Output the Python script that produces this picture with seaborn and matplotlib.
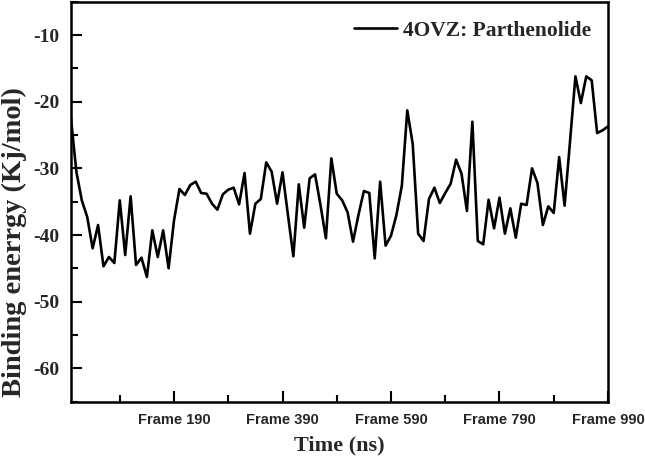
import numpy as np
import matplotlib.pyplot as plt
from matplotlib.ticker import MultipleLocator
import seaborn as sns

# frame index (every 10 frames) and binding energy
frames = np.arange(0, 1000, 10)
energy = [
    -22.5, -30.5, -34.8, -37.3, -42.0, -38.5, -44.7, -43.3, -44.2, -34.8,
    -43.0, -34.2, -44.5, -43.4, -46.3, -39.3, -43.3, -39.3, -45.0, -37.8,
    -33.1, -34.0, -32.5, -32.0, -33.7, -33.8, -35.3, -36.2, -33.9, -33.2,
    -32.9, -35.4, -30.7, -39.8, -35.3, -34.6, -29.1, -30.5, -35.3, -30.6,
    -37.0, -43.2, -32.4, -38.9, -31.5, -30.9, -35.5, -40.5, -28.5, -33.8,
    -34.8, -36.6, -41.0, -37.0, -33.4, -33.7, -43.5, -32.0, -41.6, -40.1,
    -37.0, -32.6, -21.3, -26.3, -39.8, -40.9, -34.6, -32.9, -35.2, -33.7,
    -32.3, -28.7, -30.8, -36.4, -23.0, -40.9, -41.4, -34.7, -39.0, -34.4,
    -39.8, -36.0, -40.4, -35.3, -35.5, -30.0, -32.2, -38.5, -35.7, -36.7,
    -28.3, -35.6, -26.0, -16.2, -20.2, -16.2, -16.8, -24.7, -24.3, -23.7,
]
series_label = "4OVZ: Parthenolide"
xtick_major = [190, 390, 590, 790, 990]
xtick_minor = [90, 290, 490, 690, 890]
xtick_labels = ["Frame 190", "Frame 390", "Frame 590", "Frame 790", "Frame 990"]
ytick_major = [-10, -20, -30, -40, -50, -60]

sns.set_theme(style="ticks")
plt.rcParams["font.family"] = ["Liberation Serif", "DejaVu Serif"]

fig = plt.figure(figsize=(6.45, 4.58), dpi=100)
ax = fig.add_axes([0.110, 0.123, 0.8326, 0.8733])

sns.lineplot(x=frames, y=energy, ax=ax, color="black", linewidth=1.9,
             label=series_label)

ax.set_xlim(0, 990)
ax.set_ylim(-65, -5)

ax.set_xticks(xtick_major)
ax.set_xticks(xtick_minor, minor=True)
ax.set_xticklabels(xtick_labels, family="Liberation Sans", fontweight="bold",
                   fontsize=10.5)
ax.set_yticks(ytick_major)
ax.yaxis.set_minor_locator(MultipleLocator(5))
ax.set_yticklabels([str(v) for v in ytick_major], fontweight="bold", fontsize=14)

ax.tick_params(which="both", direction="in", top=False, right=False,
               width=1.5, color="black")
ax.tick_params(which="major", length=8)
ax.tick_params(which="minor", length=5)
ax.tick_params(axis="x", pad=8)
ax.tick_params(axis="y", pad=8)

for s in ax.spines.values():
    s.set_linewidth(1.8)
    s.set_color("black")

ax.set_xlabel("Time (ns)", fontsize=16, fontweight="bold", labelpad=6)
ax.set_ylabel("Binding enerrgy (Kj/mol)", fontsize=20.5, fontweight="bold")
ax.yaxis.set_label_coords(-0.081, 0.40)

leg = ax.legend(loc="upper right", frameon=False, fontsize=15.5,
                handlelength=2.0, handletextpad=0.25,
                bbox_to_anchor=(1.0, 0.995), borderaxespad=0.4)
for t in leg.get_texts():
    t.set_fontweight("bold")

fig.savefig("out.png", dpi=100)
